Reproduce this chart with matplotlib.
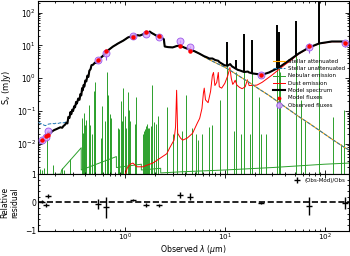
import numpy as np
import matplotlib.pyplot as plt
from matplotlib.ticker import AutoMinorLocator

# --- stellar continuum (um, mJy) ---
stel_wl = [0.136, 0.142, 0.149, 0.155, 0.160, 0.166, 0.171, 0.180, 0.188, 0.196,
           0.205, 0.215, 0.225, 0.235, 0.242, 0.250, 0.259, 0.265, 0.271, 0.278,
           0.284, 0.290, 0.296, 0.302, 0.310, 0.316, 0.324, 0.330, 0.340, 0.350,
           0.358, 0.365, 0.372, 0.378, 0.385, 0.392, 0.400, 0.410, 0.420, 0.430,
           0.440, 0.452, 0.462, 0.480, 0.500, 0.515, 0.540, 0.577, 0.610, 0.640,
           0.677, 0.720, 0.760, 0.800, 0.852, 0.900, 0.960, 1.000, 1.070, 1.150,
           1.230, 1.330, 1.410, 1.520, 1.620, 1.700, 1.770, 1.850, 1.900, 2.000,
           2.130, 2.250, 2.390, 2.450, 2.500, 2.700, 3.000, 3.300, 3.530, 3.800,
           4.100, 4.440, 5.000, 5.580, 6.550, 7.520, 8.820, 9.900, 11.10, 14.00,
           17.50, 22.00, 27.70, 35.00, 44.00, 55.00, 70.00, 88.00, 118.0, 149.0,
           175.0]
stel_att = [0.0107, 0.0125, 0.0132, 0.0140, 0.0152, 0.0190, 0.0215, 0.0220, 0.0245, 0.0265,
            0.0280, 0.0300, 0.0320, 0.0310, 0.0350, 0.0380, 0.0440, 0.0420, 0.0660, 0.0620,
            0.0930, 0.0800, 0.110, 0.100, 0.140, 0.130, 0.190, 0.170, 0.240, 0.220,
            0.330, 0.300, 0.500, 0.430, 0.620, 0.560, 0.850, 0.800, 1.20, 1.10,
            1.70, 1.90, 2.50, 2.60, 3.00, 2.90, 3.60, 4.30, 5.00, 5.80,
            7.10, 8.20, 9.30, 10.2, 11.5, 12.6, 14.0, 15.2, 17.5, 18.8,
            20.0, 20.5, 20.0, 22.0, 23.0, 24.5, 26.5, 24.0, 23.0, 21.0,
            18.8, 17.5, 16.3, 15.5, 9.30, 8.90, 8.70, 9.60, 10.0, 9.00,
            8.20, 7.60, 6.60, 5.60, 4.10, 3.30, 2.60, 2.20, 1.80, 1.15,
            0.75, 0.47, 0.30, 0.18, 0.11, 0.068, 0.042, 0.026, 0.014, 0.0087,
            0.0065]
unatt_uv = [0.045, 0.042, 0.040, 0.037, 0.036, 0.038, 0.040, 0.041, 0.042, 0.041,
            0.043, 0.042, 0.044, 0.043, 0.044, 0.045, 0.047, 0.046]
stel_unatt = unatt_uv + stel_att[len(unatt_uv):]

# --- model spectrum continuum beyond the stellar-dominated part ---
mir_wl = [6.2, 6.55, 7.0, 7.52, 8.0, 8.6, 8.82, 9.5, 9.9, 10.6, 11.3, 11.8, 12.4, 12.7,
          13.5, 14.0, 15.6, 17.0, 17.5, 19.0, 22.0, 24.0, 27.7, 35.0, 44.0, 55.0, 70.0,
          88.0, 118, 149, 175]
mir_fnu = [4.7, 4.4, 4.0, 4.0, 3.6, 3.4, 3.1, 2.7, 2.5, 2.4, 2.7, 2.3, 2.1, 2.0,
           1.8, 1.75, 1.55, 1.6, 1.5, 1.4, 1.32, 1.3, 1.5, 2.15, 3.5, 5.7, 8.7,
           11.5, 13.2, 13.2, 11.5]
spike_wl = [10.51, 12.81, 15.55, 18.71, 33.48, 34.81, 51.81, 88.36]
spike_lo = [2.4, 2.0, 1.55, 1.42, 2.1, 2.2, 5.0, 11.3]
spike_hi = [12.3, 3.5, 23.0, 15.0, 43.0, 25.0, 57.0, 400.0]

# --- dust emission ---
dust_wl = [1.00, 1.05, 1.13, 1.20, 1.28, 1.32, 1.51, 1.70, 1.90, 2.23,
           2.62, 2.80, 2.95, 3.10, 3.21, 3.29, 3.37, 3.60, 3.78, 4.20,
           4.75, 5.32, 5.60, 5.90, 6.10, 6.22, 6.40, 6.80, 7.20, 7.50,
           7.70, 7.95, 8.30, 8.60, 8.80, 9.30, 10.0, 10.7, 11.25, 11.6,
           12.0, 12.4, 12.7, 13.2, 14.0, 14.9, 16.0, 16.8, 17.5, 18.8,
           21.0, 23.6, 29.7, 36.6, 44.0, 55.0, 70.0, 88.0, 118, 149, 175]
dust_fnu = [0.0011, 0.0018, 0.0024, 0.0026, 0.0022, 0.0020, 0.0020, 0.0023, 0.0026, 0.0036,
            0.0050, 0.0075, 0.010, 0.013, 0.033, 0.43, 0.021, 0.015, 0.013, 0.015,
            0.021, 0.044, 0.06, 0.12, 0.35, 0.50, 0.22, 0.18, 0.40, 1.2,
            1.5, 0.60, 0.75, 1.5, 0.55, 0.50, 0.70, 1.2, 2.1, 1.0,
            0.65, 0.75, 0.87, 0.62, 0.53, 0.48, 0.55, 0.9, 0.6, 0.6,
            0.62, 0.75, 1.25, 2.1, 3.2, 5.5, 8.5, 11.3, 13.0, 13.0, 11.4]

# --- nebular emission: continuum + lines ---
neb_wl = [0.136, 0.228, 0.232, 0.3645, 0.3648, 0.8204, 0.8207, 1.458, 1.459, 2.278,
          2.279, 3.5, 10.0, 30.0, 100.0, 175.0]
neb_fnu = [0.0011, 0.0012, 0.0016, 0.0076, 0.0016, 0.0041, 0.0019, 0.0024, 0.0016, 0.0018,
           0.0013, 0.0014, 0.0016, 0.0019, 0.0024, 0.0026]
line_wl = [0.1403, 0.1483, 0.1550, 0.1640, 0.1909, 0.2326, 0.2470, 0.2798, 0.3727, 0.3869,
           0.3970, 0.4102, 0.4340, 0.4471, 0.4861, 0.4959, 0.5007, 0.5876, 0.6300, 0.6563,
           0.6584, 0.6717, 0.6731, 0.7065, 0.7136, 0.7325, 0.9069, 0.9531, 1.0049, 1.0830,
           1.0938, 1.2818, 1.6440, 1.8751, 1.9445, 2.0587, 2.1655, 2.6252, 3.2961, 3.7395,
           4.0512, 4.6525, 5.1286, 5.3400, 6.9850, 7.4600, 8.9910, 10.510, 12.370, 12.810,
           15.550, 17.930, 18.710, 21.830, 25.890, 33.480, 34.810, 36.010, 51.810, 57.320,
           63.180, 88.360, 121.90, 145.50, 157.70,
           0.3835, 0.3889, 0.4686, 0.5755, 0.6678, 0.8446, 0.8665, 0.8750, 0.9229, 0.9546,
           1.0124, 1.1287, 1.2570, 1.5265, 1.5561, 1.5885, 1.6412, 1.6811, 1.7367, 1.8179,
           3.0392, 5.9082, 14.370, 22.930, 25.990]
line_peak = [0.0017, 0.0016, 0.0018, 0.024, 0.0023, 0.0019, 0.0016, 0.0034, 0.061, 0.088,
             0.037, 0.053, 0.15, 0.037, 0.40, 0.21, 0.76, 0.14, 0.05, 1.5,
             0.45, 0.30, 0.22, 0.05, 0.08, 0.06, 0.20, 0.50, 0.07, 0.38,
             0.11, 0.27, 0.04, 0.61, 0.045, 0.04, 0.07, 0.13, 0.03, 0.025,
             0.30, 0.03, 0.02, 0.013, 0.033, 0.037, 0.21, 10.0, 0.025, 1.6,
             21.0, 0.02, 13.5, 0.27, 0.018, 41.0, 23.0, 1.5, 52.0, 0.21,
             0.05, 390.0, 0.065, 0.01, 0.11,
             0.022, 0.045, 0.02, 0.015, 0.04, 0.03, 0.022, 0.028, 0.05, 0.10,
             0.03, 0.05, 0.04, 0.02, 0.025, 0.028, 0.035, 0.03, 0.03, 0.035,
             0.02, 0.02, 0.02, 0.02, 0.02]
LINE_BASE = 1e-3

# --- photometry ---
filt_wl = [0.149, 0.160, 0.171, 0.539, 0.647, 1.20, 1.62, 2.18, 3.53, 4.44, 23.1, 69.5, 158]
obs_flux = [0.0131, 0.0162, 0.0245, 3.5, 5.7, 20, 23, 17.5, 13.2, 8.7, 1.23, 8.7, 11.5]
obs_err = [0.0008, 0.001, 0.0017, 0.63, 2.05, 0.8, 1.4, 1.05, 1.3, 1.2, 0.05, 2.8, 2.3]
mod_flux = [0.0127, 0.0178, 0.0186, 3.7, 6.7, 18.4, 25, 19.4, 9.8, 6.9, 1.25, 9.7, 11.8]

# model continuum: stellar part up to 5.58 um, then the IR part
n_st = stel_wl.index(5.580) + 1
mod_wl = stel_wl[:n_st] + mir_wl
mod_fnu = stel_att[:n_st] + mir_fnu

obs = np.array(obs_flux)
err = np.array(obs_err)
mod = np.array(mod_flux)
resid = (obs - mod) / obs
resid_err = err / obs

GREEN = "#2ca02c"
fig = plt.figure(figsize=(3.5, 2.56), dpi=100)
ax1 = fig.add_axes([0.109, 0.32, 0.888, 0.677])
ax2 = fig.add_axes([0.109, 0.099, 0.888, 0.221], sharex=ax1)

ax1.plot(neb_wl, neb_fnu, color=GREEN, lw=0.7, zorder=1, label="Nebular emission")
ax1.vlines(line_wl, LINE_BASE, line_peak, color=GREEN, lw=0.7, zorder=1)
ax1.plot(dust_wl, dust_fnu, color="red", lw=0.7, zorder=2, label="Dust emission")
ax1.plot(stel_wl, stel_att, color="orange", lw=0.8, zorder=3, label="Stellar attenuated")
ax1.plot(stel_wl, stel_unatt, color="tab:blue", ls="--", lw=0.7, zorder=4,
         label="Stellar unattenuated")
ax1.plot(mod_wl, mod_fnu, color="black", lw=1.5, zorder=5, label="Model spectrum")
ax1.vlines(spike_wl, spike_lo, spike_hi, color="black", lw=1.4, zorder=5)
ax1.errorbar(filt_wl, obs_flux, yerr=obs_err, ls="", marker="o", ms=5,
             mfc=(0.85, 0.65, 1.0, 0.8), mec="#9b59e8", mew=0.6,
             ecolor="#9b59e8", elinewidth=0.8, zorder=6, label="Observed fluxes")
ax1.plot(filt_wl, mod_flux, ls="", marker="o", ms=2.2, color="red", zorder=7,
         label="Model fluxes")

ax1.set_xscale("log")
ax1.set_yscale("log")
ax1.set_xlim(0.135, 175)
ax1.set_ylim(1.2e-3, 230)
ax1.set_ylabel(r"S$_\nu$ (mJy)", fontsize=6, labelpad=3)
ax1.tick_params(labelbottom=False)

h, l = ax1.get_legend_handles_labels()
order = ["Stellar attenuated", "Stellar unattenuated", "Nebular emission",
         "Dust emission", "Model spectrum", "Model fluxes", "Observed fluxes"]
hh = [h[l.index(o)] for o in order]
ax1.legend(hh, order, loc="upper left", bbox_to_anchor=(0.755, 0.665), fontsize=4,
           frameon=False, borderpad=0, borderaxespad=0, labelspacing=0.42,
           handlelength=2.2, handletextpad=0.5, markerscale=0.8)

ax2.errorbar(filt_wl, resid, yerr=resid_err, ls="", marker="_", ms=5, mew=1,
             color="black", elinewidth=1, label="(Obs-Mod)/Obs")
ax2.axhline(0, color="black", ls="--", lw=1.2)
ax2.set_ylim(-1, 1)
ax2.set_yticks([-1, 0, 1])
ax2.yaxis.set_minor_locator(AutoMinorLocator(5))
ax2.set_ylabel("Relative\nresidual", fontsize=5.5, labelpad=4)
ax2.legend(loc="upper right", fontsize=4, frameon=False, handlelength=1,
           handletextpad=0.8, borderaxespad=0.3)

for ax in (ax1, ax2):
    ax.tick_params(which="both", direction="in", top=True, right=True,
                   labelsize=5.5, width=0.6, pad=1.5)
    ax.tick_params(which="major", length=3)
    ax.tick_params(which="minor", length=1.5)
    for s in ax.spines.values():
        s.set_linewidth(0.8)
ax2.tick_params(axis="x", labelsize=5.2, pad=1)
ax2.set_xlabel(r"Observed $\lambda$ ($\mu$m)", fontsize=5.6, labelpad=-0.5)

fig.savefig("out.png", dpi=100)
